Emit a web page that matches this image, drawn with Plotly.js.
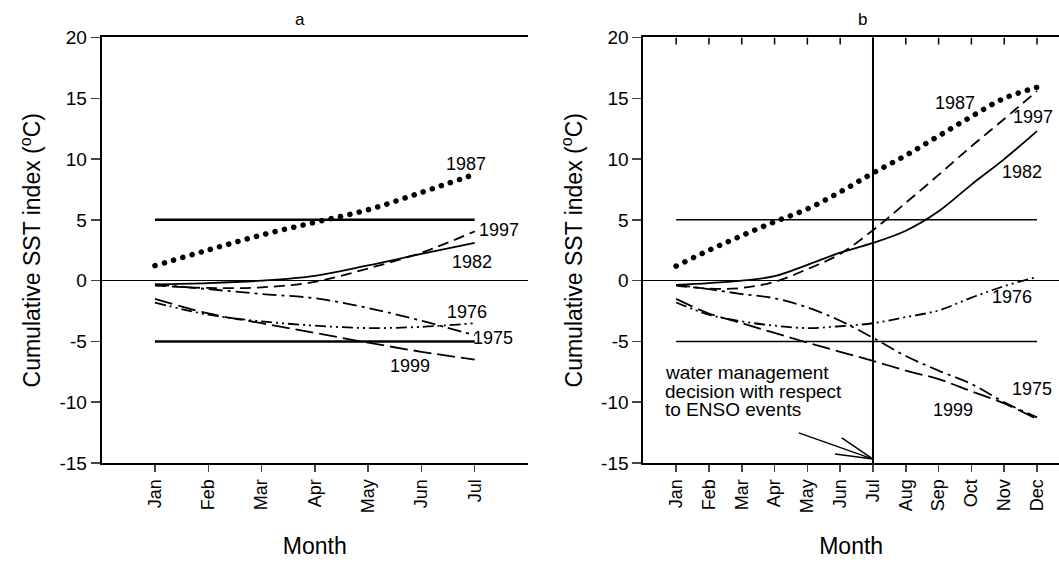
<!DOCTYPE html>
<html>
<head>
<meta charset="utf-8">
<script src="https://cdn.plot.ly/plotly-3.0.1.min.js"></script>
<style>html,body{margin:0;padding:0;background:#fff;}#chart{width:1059px;height:563px;}</style>
</head>
<body>
<div id="chart"></div>
<script>
// ---- data ----
const monthsA = ['Jan','Feb','Mar','Apr','May','Jun','Jul'];
const monthsB = ['Jan','Feb','Mar','Apr','May','Jun','Jul','Aug','Sep','Oct','Nov','Dec'];
const monthNumA = [1,2,3,4,5,6,7];
const monthNumB = [1,2,3,4,5,6,7,8,9,10,11,12];
const yTickVals = [-15,-10,-5,0,5,10,15,20];
const yTickText = ['-15','-10','-5','0','5','10','15','20'];

const y1987a = [1.23, 2.52, 3.75, 4.8, 5.83, 7.26, 8.75];
const y1997a = [-0.4, -0.6, -0.55, -0.1, 1.0, 2.3, 4.05];
const y1982a = [-0.3, -0.2, 0.0, 0.4, 1.25, 2.2, 3.1];
const y1976a = [-1.8, -2.8, -3.35, -3.7, -3.9, -3.8, -3.5];
const y1975a = [-0.3, -0.7, -1.1, -1.45, -2.25, -3.3, -4.5];
const y1999a = [-1.5, -2.7, -3.5, -4.3, -5.1, -5.85, -6.5];

const y1987b = [1.2, 2.5, 3.7, 4.84, 5.9, 7.3, 8.85, 10.3, 11.9, 13.5, 15.0, 15.9];
const y1997b = [-0.4, -0.65, -0.6, -0.1, 0.95, 2.2, 4.15, 6.4, 8.7, 11.05, 13.3, 15.6];
const y1982b = [-0.35, -0.2, 0.0, 0.37, 1.3, 2.3, 3.1, 4.1, 5.7, 7.9, 10.0, 12.3];
const y1976b = [-1.8, -2.8, -3.35, -3.7, -3.9, -3.75, -3.5, -3.0, -2.45, -1.4, -0.45, 0.3];
const y1975b = [-0.35, -0.7, -1.1, -1.45, -2.2, -3.3, -4.7, -6.2, -7.4, -8.5, -10.0, -11.25];
const y1999b = [-1.5, -2.7, -3.5, -4.3, -5.1, -5.85, -6.6, -7.4, -8.1, -9.1, -10.1, -11.4];

const yearNames = ['1987','1997','1982','1976','1975','1999'];
const thresholds = [5, -5];

// ---- styles ----
const FONT = 'Liberation Sans, Arial, sans-serif';
const styles = {
  '1987': {width: 5.5, dash: '0.1px,9.5px'},
  '1997': {width: 1.8, dash: '11px,6px'},
  '1982': {width: 1.8, dash: 'solid'},
  '1976': {width: 1.8, dash: '11px,4px,2px,4px,2px,4px'},
  '1975': {width: 1.8, dash: '14px,5px,3px,5px'},
  '1999': {width: 1.8, dash: '18px,6px'}
};
const seriesA = {'1987': y1987a, '1997': y1997a, '1982': y1982a, '1976': y1976a, '1975': y1975a, '1999': y1999a};
const seriesB = {'1987': y1987b, '1997': y1997b, '1982': y1982b, '1976': y1976b, '1975': y1975b, '1999': y1999b};

const traces = [];
yearNames.forEach(n => {
  traces.push({x: monthNumA, y: seriesA[n], xaxis: 'x', yaxis: 'y', mode: 'lines', name: n,
    line: {color: '#000', width: styles[n].width, dash: styles[n].dash, shape: 'spline', smoothing: 1}, showlegend: false, hoverinfo: 'skip'});
});
yearNames.forEach(n => {
  traces.push({x: monthNumB, y: seriesB[n], xaxis: 'x2', yaxis: 'y2', mode: 'lines', name: n,
    line: {color: '#000', width: styles[n].width, dash: styles[n].dash, shape: 'spline', smoothing: 1}, showlegend: false, hoverinfo: 'skip'});
});
thresholds.forEach(t => {
  traces.push({x: [monthNumA[0], monthNumA[monthNumA.length-1]], y: [t, t], xaxis: 'x', yaxis: 'y', mode: 'lines',
    line: {color: '#000', width: 2.5}, showlegend: false, hoverinfo: 'skip'});
  traces.push({x: [monthNumB[0], monthNumB[monthNumB.length-1]], y: [t, t], xaxis: 'x2', yaxis: 'y2', mode: 'lines',
    line: {color: '#000', width: 1.5}, showlegend: false, hoverinfo: 'skip'});
});

const ydom = [0.1776, 0.9334];
const yRange = [-15, 20];
const yax = {
  range: yRange, tickvals: yTickVals, ticktext: yTickText, ticks: 'outside', ticklen: 9, tickwidth: 1.5,
  showline: true, linewidth: 2, linecolor: '#000', showgrid: false,
  zeroline: true, zerolinecolor: '#000', zerolinewidth: 1.3,
  tickfont: {family: FONT, size: 19, color: '#000'}, domain: ydom,
  title: {text: 'Cumulative SST index (<sup>o</sup>C)', font: {family: FONT, size: 23, color: '#000'}, standoff: 12}
};
const xcommon = {
  ticks: 'outside', ticklen: 7, tickwidth: 1.5, showline: true, linewidth: 2, linecolor: '#000',
  showgrid: false, zeroline: false, tickangle: -90, mirror: true,
  tickfont: {family: FONT, size: 18, color: '#000'},
  title: {text: 'Month', font: {family: FONT, size: 23, color: '#000'}, standoff: 26}
};

const layout = {
  width: 1059, height: 563,
  margin: {l: 0, r: 0, t: 0, b: 0},
  paper_bgcolor: '#fff', plot_bgcolor: '#fff',
  showlegend: false,
  xaxis: Object.assign({}, xcommon, {domain: [0.0960, 0.4986], range: [0, 8], tickvals: monthNumA, ticktext: monthsA, anchor: 'y'}),
  yaxis: Object.assign({}, yax, {anchor: 'x'}),
  xaxis2: Object.assign({}, xcommon, {domain: [0.6075, 1.0], range: [0, 12.67], tickvals: monthNumB, ticktext: monthsB, anchor: 'y2'}),
  yaxis2: Object.assign({}, yax, {anchor: 'x2'}),
  shapes: [
    {type: 'line', xref: 'x2', yref: 'y2', x0: 7, x1: 7, y0: -15, y1: 20.3, line: {color: '#000', width: 2}},
    // annotation arrow (decoration)
    {type: 'line', xref: 'x2', yref: 'y2', x0: 4.74, y0: -12.52, x1: 7.0, y1: -14.68, line: {color: '#000', width: 1.5}},
    {type: 'line', xref: 'x2', yref: 'y2', x0: 6.05, y0: -12.93, x1: 7.0, y1: -14.68, line: {color: '#000', width: 1.5}},
    {type: 'line', xref: 'x2', yref: 'y2', x0: 5.84, y0: -14.26, x1: 7.0, y1: -14.68, line: {color: '#000', width: 1.5}}
  ],
  annotations: []
};
// inward month ticks on the top frame of panel b (7 px long)
monthNumB.forEach(m => layout.shapes.push({type: 'line', xref: 'x2', yref: 'y2', x0: m, x1: m,
  y0: yRange[1], y1: yRange[1] - 7 / 12.16, line: {color: '#000', width: 1.5}}));

const lab = (text, x, y, xr, yr, size, xanchor) => ({text, x, y, xref: xr, yref: yr, showarrow: false,
  xanchor: xanchor || 'center', yanchor: 'middle', font: {family: FONT, size: size || 18, color: '#000'}});

const labelsA = [['1987', 6.83, 9.61], ['1997', 7.45, 4.19], ['1982', 6.94, 1.56], ['1976', 6.85, -2.55], ['1975', 7.34, -4.68], ['1999', 5.78, -7.03]];
const labelsB = [['1987', 9.5, 14.62], ['1997', 11.89, 13.45], ['1982', 11.54, 8.95], ['1976', 11.23, -1.36], ['1975', 11.84, -8.95], ['1999', 9.45, -10.6]];
labelsA.forEach(l => layout.annotations.push(lab(l[0], l[1], l[2], 'x', 'y')));
labelsB.forEach(l => layout.annotations.push(lab(l[0], l[1], l[2], 'x2', 'y2')));
const noteLines = [['water management', -7.55], ['decision with respect', -9.1], ['to ENSO events', -10.6]];
noteLines.forEach(l => layout.annotations.push(lab(l[0], 0.59, l[1], 'x2', 'y2', 19, 'left')));
layout.annotations.push({text: 'a', x: 0.2833, y: 0.9645, xref: 'paper', yref: 'paper', showarrow: false, xanchor: 'center', yanchor: 'middle', font: {family: FONT, size: 17, color: '#000'}});
layout.annotations.push({text: 'b', x: 0.814, y: 0.9645, xref: 'paper', yref: 'paper', showarrow: false, xanchor: 'center', yanchor: 'middle', font: {family: FONT, size: 17, color: '#000'}});

Plotly.newPlot('chart', traces, layout, {staticPlot: true}).then(gd => {
  gd.querySelectorAll('path.js-line').forEach(p => {
    const sw = parseFloat(p.style.strokeWidth);
    if (sw === 5.5) { p.style.strokeLinecap = 'round'; }
  });
});
</script>
</body>
</html>
